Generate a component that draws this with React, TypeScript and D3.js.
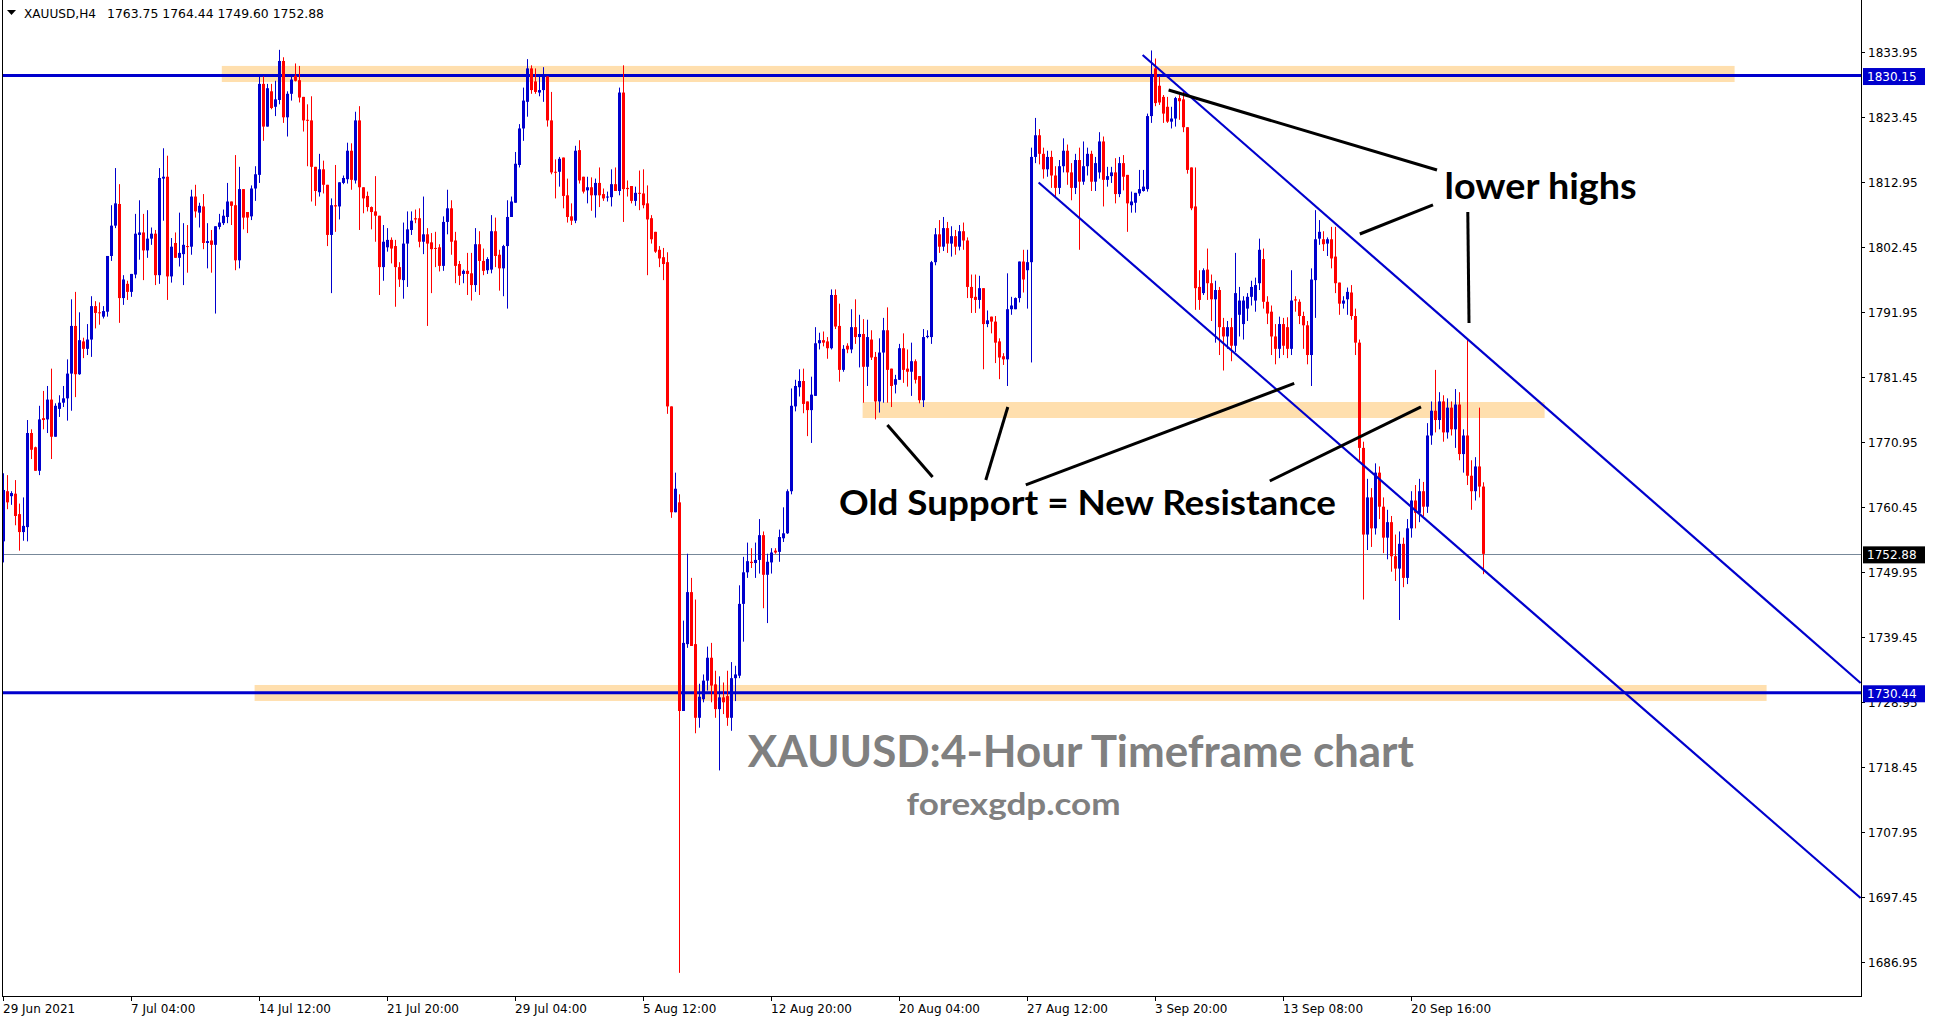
import React from 'react';
import * as d3 from 'd3';

const W = 1933;
const H = 1023;

const SYMBOL = 'XAUUSD,H4';
const HEADER_OHLC = '1763.75 1764.44 1749.60 1752.88';

const PRICE_TICKS = [1833.95, 1823.45, 1812.95, 1802.45, 1791.95, 1781.45, 1770.95, 1760.45, 1749.95, 1739.45, 1728.95, 1718.45, 1707.95, 1697.45, 1686.95];
const DATE_LABELS = ['29 Jun 2021', '7 Jul 04:00', '14 Jul 12:00', '21 Jul 20:00', '29 Jul 04:00', '5 Aug 12:00', '12 Aug 20:00', '20 Aug 04:00', '27 Aug 12:00', '3 Sep 20:00', '13 Sep 08:00', '20 Sep 16:00'];
const DATE_BARS = [0, 32, 64, 96, 128, 160, 192, 224, 256, 288, 320, 352];

const LEVELS = [1830.15, 1730.44];
const LAST_PRICE = 1752.88;

// zones: [fromBar, toBar, lowPrice, highPrice]
const ZONES: [number, number, number, number][] = [
  [54.7, 432.9, 1829.1, 1831.7],
  [214.9, 385.4, 1774.83, 1777.41],
  [62.9, 440.9, 1729.12, 1731.7],
];

// channel lines: [bar1, price1, bar2, price2]
const CHANNEL: [number, number, number, number][] = [
  [284.9, 1833.47, 464.4, 1732.02],
  [258.9, 1812.87, 464.4, 1697.29],
];

// pointer lines: [bar1, price1, bar2, price2]
const POINTERS: [number, number, number, number][] = [
  [291.4, 1827.81, 358.5, 1814.89],
  [339.2, 1804.55, 357.5, 1809.24],
  [366.2, 1808.1, 366.5, 1790.17],
  [221.1, 1773.7, 232.4, 1765.3],
  [251.2, 1776.6, 245.7, 1764.81],
  [255.7, 1764.01, 322.8, 1780.41],
  [316.7, 1764.65, 354.5, 1776.63],
];

// labels: [text, bar, price, spanBars]
const NOTES: [string, number, number, number][] = [
  ['lower highs', 360.4, 1810.28, 48],
  ['Old Support = New Resistance', 209.0, 1759.08, 124.25],
];
const WATERMARK: [string, number, number, number][] = [
  ['XAUUSD:4-Hour Timeframe chart', 186.2, 1718.45, 166.5],
  ['forexgdp.com', 225.9, 1710.7, 53.5],
];

// [open, high, low, close]
const OHLC: [number, number, number, number][] = [
  [1754.9, 1765.9, 1751.5, 1763.2], [1763.0, 1765.6, 1760.1, 1761.2], [1762.2, 1763.0, 1760.8, 1762.7], [1762.6, 1764.8, 1757.5, 1759.0],
  [1759.3, 1761.0, 1753.4, 1756.4], [1756.4, 1762.0, 1755.0, 1757.4], [1757.2, 1774.5, 1754.9, 1772.4], [1772.4, 1773.0, 1768.2, 1769.7],
  [1770.1, 1770.2, 1766.3, 1766.3], [1766.3, 1776.8, 1765.6, 1774.6], [1774.8, 1779.2, 1773.0, 1774.5], [1774.6, 1780.0, 1772.4, 1777.8],
  [1777.8, 1782.8, 1768.2, 1771.8], [1771.8, 1777.2, 1771.8, 1776.8], [1776.3, 1778.5, 1775.0, 1777.3], [1777.3, 1780.0, 1776.6, 1778.0],
  [1778.0, 1784.3, 1774.4, 1782.0], [1782.0, 1794.0, 1776.0, 1789.7], [1789.7, 1795.2, 1778.2, 1781.9], [1781.9, 1791.9, 1781.8, 1787.4],
  [1787.2, 1787.8, 1784.5, 1786.0], [1786.0, 1790.0, 1785.0, 1787.5], [1787.5, 1794.5, 1784.7, 1792.9], [1792.9, 1793.7, 1789.3, 1791.8],
  [1791.9, 1793.5, 1789.9, 1791.8], [1791.2, 1792.9, 1790.9, 1792.1], [1792.0, 1801.0, 1791.2, 1801.0], [1801.0, 1809.2, 1800.2, 1805.9],
  [1805.9, 1815.2, 1805.5, 1809.5], [1809.4, 1812.6, 1790.2, 1794.2], [1794.2, 1797.9, 1793.1, 1797.2], [1796.5, 1797.0, 1793.9, 1795.2],
  [1795.2, 1798.1, 1794.4, 1798.1], [1798.0, 1807.8, 1797.4, 1804.6], [1804.4, 1810.0, 1800.4, 1804.8], [1804.8, 1807.8, 1797.1, 1801.9],
  [1801.9, 1808.4, 1800.7, 1803.8], [1803.8, 1805.6, 1802.8, 1804.6], [1804.6, 1805.2, 1796.3, 1797.9], [1797.9, 1815.2, 1796.5, 1813.6],
  [1813.5, 1818.4, 1806.7, 1813.8], [1813.8, 1817.2, 1793.9, 1797.7], [1797.7, 1803.9, 1796.7, 1802.5], [1803.1, 1804.8, 1800.7, 1800.7],
  [1800.7, 1808.0, 1799.3, 1801.5], [1801.3, 1806.3, 1796.3, 1802.8], [1802.6, 1806.0, 1798.3, 1802.5], [1802.5, 1811.7, 1801.2, 1810.6],
  [1810.6, 1812.5, 1807.2, 1808.2], [1808.0, 1809.6, 1805.6, 1809.1], [1809.0, 1811.0, 1802.1, 1803.1], [1803.1, 1806.3, 1799.0, 1803.4],
  [1803.5, 1805.2, 1798.3, 1802.8], [1802.8, 1805.8, 1791.7, 1805.8], [1805.7, 1807.8, 1805.3, 1806.4], [1806.3, 1808.5, 1806.0, 1807.5],
  [1807.3, 1812.8, 1806.3, 1809.8], [1809.8, 1809.8, 1806.0, 1809.1], [1809.2, 1817.3, 1798.7, 1800.3], [1800.3, 1815.4, 1799.0, 1811.8],
  [1811.8, 1811.8, 1805.3, 1807.2], [1808.1, 1808.1, 1804.7, 1807.2], [1807.4, 1812.4, 1806.8, 1811.9], [1811.9, 1815.5, 1809.9, 1814.2],
  [1814.1, 1830.0, 1812.8, 1828.8], [1828.8, 1830.0, 1819.6, 1821.9], [1821.9, 1828.8, 1821.9, 1828.1], [1827.6, 1828.8, 1824.7, 1824.9],
  [1825.1, 1829.3, 1823.6, 1826.3], [1826.2, 1834.3, 1825.5, 1832.5], [1832.5, 1833.1, 1822.5, 1823.4], [1823.4, 1827.6, 1820.3, 1827.2],
  [1827.2, 1830.1, 1826.1, 1829.5], [1830.1, 1832.1, 1829.2, 1829.3], [1829.4, 1831.7, 1825.8, 1826.6], [1826.7, 1826.7, 1821.1, 1822.9],
  [1823.0, 1825.5, 1815.5, 1822.9], [1822.9, 1826.8, 1809.8, 1815.4], [1815.4, 1815.4, 1809.1, 1811.5], [1811.3, 1817.5, 1810.6, 1815.0],
  [1815.0, 1816.4, 1811.1, 1812.5], [1812.5, 1812.5, 1802.6, 1804.4], [1804.4, 1810.3, 1795.0, 1809.2], [1809.2, 1815.7, 1804.9, 1809.0],
  [1809.0, 1812.9, 1806.9, 1812.9], [1812.8, 1814.0, 1812.6, 1813.6], [1813.4, 1819.3, 1812.7, 1818.0], [1818.0, 1819.2, 1811.7, 1813.3],
  [1813.2, 1824.3, 1812.7, 1822.9], [1822.9, 1825.2, 1805.2, 1812.1], [1812.1, 1812.1, 1807.9, 1810.3], [1810.7, 1811.4, 1808.2, 1808.9],
  [1808.9, 1809.0, 1805.3, 1808.1], [1808.2, 1813.9, 1803.3, 1807.5], [1807.5, 1807.5, 1794.7, 1799.2], [1799.2, 1806.0, 1797.0, 1803.3],
  [1802.4, 1805.5, 1801.7, 1803.6], [1803.6, 1804.0, 1799.8, 1802.2], [1802.6, 1803.6, 1792.8, 1799.2], [1799.2, 1800.0, 1796.0, 1797.2],
  [1797.1, 1806.4, 1794.1, 1803.0], [1803.0, 1808.2, 1796.0, 1805.3], [1805.2, 1808.2, 1804.4, 1806.7], [1807.1, 1808.5, 1806.3, 1806.9],
  [1807.1, 1808.7, 1802.4, 1803.3], [1803.3, 1810.6, 1801.3, 1804.5], [1804.5, 1805.5, 1789.7, 1803.0], [1803.2, 1804.7, 1795.0, 1802.1],
  [1802.3, 1804.9, 1799.2, 1802.2], [1802.4, 1802.9, 1798.5, 1799.4], [1799.4, 1807.4, 1798.6, 1806.5], [1806.5, 1811.7, 1804.5, 1808.7],
  [1808.7, 1810.0, 1801.2, 1803.3], [1803.5, 1804.9, 1796.6, 1799.4], [1799.7, 1800.2, 1796.3, 1797.8], [1798.1, 1798.8, 1796.6, 1798.6],
  [1798.6, 1801.5, 1794.7, 1798.1], [1798.2, 1801.5, 1793.8, 1796.3], [1796.3, 1805.5, 1795.2, 1802.9], [1802.9, 1805.0, 1794.7, 1800.2],
  [1800.2, 1802.2, 1797.9, 1798.6], [1798.7, 1800.8, 1798.1, 1800.5], [1798.8, 1807.6, 1798.2, 1805.0], [1805.0, 1807.2, 1799.2, 1801.0],
  [1801.2, 1802.0, 1795.4, 1799.0], [1799.0, 1802.8, 1794.5, 1802.6], [1802.6, 1810.0, 1792.5, 1807.3], [1807.3, 1810.6, 1807.3, 1809.8],
  [1809.6, 1817.8, 1809.6, 1815.9], [1815.7, 1822.3, 1815.3, 1821.6], [1821.6, 1828.2, 1819.6, 1826.1], [1825.9, 1832.8, 1823.5, 1831.3],
  [1831.3, 1831.8, 1827.2, 1827.8], [1829.2, 1831.3, 1827.2, 1827.5], [1827.4, 1830.1, 1826.8, 1827.8], [1827.8, 1831.5, 1825.9, 1830.0],
  [1830.0, 1830.0, 1821.9, 1822.9], [1822.9, 1827.5, 1814.2, 1814.5], [1814.6, 1816.6, 1810.3, 1814.5], [1814.6, 1817.0, 1812.2, 1816.7],
  [1816.9, 1816.9, 1808.7, 1810.7], [1810.8, 1813.5, 1806.4, 1807.3], [1807.4, 1809.5, 1806.0, 1806.7], [1806.7, 1818.8, 1806.3, 1818.0],
  [1818.1, 1819.7, 1812.7, 1813.2], [1813.8, 1813.8, 1811.1, 1811.4], [1811.6, 1813.8, 1809.5, 1812.1], [1812.1, 1813.7, 1808.3, 1810.8],
  [1810.8, 1813.5, 1807.2, 1812.8], [1812.8, 1815.3, 1808.9, 1810.8], [1811.0, 1811.9, 1809.9, 1810.3], [1810.5, 1811.4, 1809.8, 1810.6],
  [1810.5, 1815.0, 1809.0, 1812.6], [1812.6, 1815.3, 1811.5, 1811.5], [1811.5, 1828.2, 1810.8, 1827.4], [1827.4, 1831.8, 1806.5, 1811.8],
  [1812.0, 1813.2, 1810.6, 1811.8], [1812.3, 1812.3, 1809.5, 1809.9], [1809.9, 1812.2, 1809.1, 1811.2], [1811.2, 1814.8, 1808.4, 1811.1],
  [1811.1, 1815.0, 1808.7, 1809.2], [1809.5, 1812.4, 1797.9, 1806.9], [1807.1, 1807.6, 1803.0, 1803.7], [1804.9, 1804.9, 1801.5, 1801.7],
  [1802.0, 1802.6, 1799.2, 1800.6], [1800.8, 1802.3, 1797.1, 1799.7], [1800.0, 1801.6, 1775.5, 1776.7], [1776.7, 1776.7, 1758.7, 1759.6],
  [1759.6, 1766.0, 1759.6, 1763.4], [1761.2, 1762.5, 1685.2, 1727.5], [1727.5, 1742.1, 1727.5, 1738.5], [1738.3, 1752.9, 1737.7, 1746.7],
  [1746.7, 1749.0, 1738.0, 1738.0], [1738.3, 1745.5, 1723.9, 1726.4], [1726.4, 1731.9, 1724.8, 1729.8], [1729.4, 1733.4, 1728.9, 1732.4],
  [1732.4, 1737.9, 1730.8, 1736.1], [1736.1, 1738.5, 1728.9, 1731.6], [1731.8, 1734.0, 1726.4, 1727.8], [1727.8, 1733.1, 1717.9, 1729.7],
  [1729.7, 1732.1, 1727.0, 1728.9], [1729.9, 1734.0, 1725.1, 1726.4], [1726.4, 1735.4, 1724.3, 1732.8], [1732.8, 1734.8, 1729.1, 1733.4],
  [1733.2, 1747.8, 1732.8, 1744.8], [1744.8, 1752.4, 1738.7, 1749.9], [1749.9, 1754.7, 1749.0, 1751.7], [1751.6, 1753.8, 1750.6, 1751.4],
  [1751.4, 1754.7, 1749.0, 1751.9], [1751.9, 1758.5, 1749.7, 1755.9], [1755.9, 1756.5, 1744.1, 1749.5], [1749.5, 1752.9, 1741.7, 1751.6],
  [1751.5, 1753.8, 1749.7, 1753.1], [1753.4, 1753.8, 1752.9, 1753.1], [1753.2, 1756.8, 1751.6, 1755.6], [1755.4, 1760.4, 1754.8, 1756.2],
  [1756.2, 1763.3, 1756.1, 1763.0], [1763.0, 1779.6, 1762.5, 1776.8], [1776.7, 1781.0, 1775.9, 1780.0], [1779.8, 1782.7, 1778.3, 1780.8],
  [1780.8, 1782.8, 1775.6, 1777.1], [1777.5, 1777.5, 1771.9, 1776.1], [1776.1, 1781.5, 1770.8, 1778.6], [1778.4, 1789.5, 1778.4, 1786.9],
  [1786.9, 1788.6, 1785.9, 1787.4], [1787.4, 1788.8, 1786.4, 1787.0], [1787.2, 1787.9, 1784.4, 1786.1], [1786.1, 1795.6, 1785.9, 1794.7],
  [1794.7, 1795.6, 1789.2, 1789.6], [1789.7, 1793.3, 1780.7, 1782.6], [1782.6, 1786.6, 1782.3, 1786.0], [1786.5, 1786.9, 1785.3, 1785.9],
  [1785.9, 1792.4, 1785.3, 1789.5], [1789.5, 1794.0, 1786.8, 1787.9], [1787.9, 1791.5, 1783.0, 1788.4], [1788.4, 1790.8, 1777.3, 1783.1],
  [1783.1, 1790.7, 1780.0, 1787.9], [1787.5, 1789.0, 1784.2, 1784.6], [1784.7, 1785.5, 1774.6, 1777.5], [1777.5, 1787.7, 1775.7, 1785.4],
  [1785.4, 1791.0, 1777.3, 1789.0], [1789.0, 1792.7, 1777.3, 1782.6], [1782.8, 1782.8, 1776.6, 1780.0], [1780.2, 1781.8, 1778.8, 1781.1],
  [1781.0, 1786.8, 1781.0, 1786.1], [1786.1, 1788.5, 1780.5, 1782.6], [1782.8, 1785.9, 1779.9, 1782.3], [1782.3, 1787.0, 1778.4, 1784.0],
  [1784.0, 1784.3, 1780.4, 1781.0], [1781.6, 1781.6, 1777.2, 1777.7], [1777.7, 1789.2, 1776.6, 1787.9], [1787.9, 1789.0, 1787.7, 1788.1],
  [1787.9, 1800.2, 1786.8, 1800.0], [1800.0, 1805.5, 1799.5, 1804.5], [1804.5, 1806.8, 1801.5, 1802.5], [1802.5, 1807.3, 1801.8, 1805.5],
  [1805.5, 1806.5, 1801.5, 1803.0], [1803.0, 1805.8, 1800.9, 1804.2], [1804.2, 1805.2, 1801.2, 1802.5], [1802.5, 1806.0, 1801.9, 1805.0],
  [1805.0, 1806.4, 1802.0, 1803.5], [1803.5, 1804.0, 1794.2, 1796.0], [1796.0, 1798.0, 1791.8, 1794.2], [1794.4, 1798.0, 1791.8, 1793.9],
  [1793.9, 1797.8, 1792.5, 1795.8], [1795.8, 1795.8, 1782.7, 1790.0], [1790.0, 1792.2, 1789.5, 1790.6], [1791.2, 1791.2, 1788.5, 1790.4],
  [1790.4, 1791.3, 1783.7, 1787.0], [1787.2, 1787.7, 1781.1, 1784.6], [1784.8, 1785.3, 1783.4, 1784.3], [1784.3, 1798.2, 1780.0, 1792.4],
  [1792.4, 1794.4, 1791.5, 1793.0], [1792.4, 1794.3, 1792.4, 1794.2], [1794.2, 1800.1, 1793.5, 1800.1], [1800.1, 1802.0, 1795.1, 1797.2],
  [1798.7, 1802.0, 1792.5, 1800.0], [1800.0, 1818.5, 1783.8, 1817.0], [1817.0, 1823.3, 1816.0, 1820.5], [1820.5, 1821.5, 1815.8, 1817.5],
  [1817.5, 1818.5, 1813.5, 1815.0], [1815.0, 1818.0, 1813.8, 1817.0], [1817.0, 1818.0, 1812.0, 1814.0], [1814.0, 1815.5, 1810.5, 1812.0],
  [1812.0, 1816.5, 1811.0, 1815.5], [1815.5, 1820.0, 1814.5, 1818.0], [1818.0, 1819.0, 1812.5, 1814.5], [1814.5, 1816.0, 1810.0, 1812.0],
  [1812.0, 1817.5, 1811.0, 1816.5], [1816.5, 1818.5, 1802.0, 1813.0], [1813.0, 1819.5, 1812.5, 1815.5], [1815.5, 1818.5, 1814.0, 1817.5],
  [1817.5, 1818.0, 1811.5, 1813.0], [1813.0, 1817.0, 1811.5, 1816.0], [1814.5, 1821.0, 1813.5, 1819.5], [1819.5, 1820.3, 1809.0, 1813.3],
  [1813.3, 1815.4, 1812.2, 1813.9], [1813.9, 1815.4, 1812.8, 1814.5], [1814.5, 1816.8, 1809.5, 1811.0], [1811.0, 1817.0, 1810.5, 1816.0],
  [1816.0, 1817.3, 1811.6, 1813.8], [1814.1, 1814.1, 1804.9, 1809.5], [1809.2, 1811.4, 1808.0, 1809.8], [1809.6, 1811.2, 1808.0, 1811.2],
  [1811.1, 1814.9, 1810.7, 1811.8], [1811.5, 1814.9, 1811.4, 1812.2], [1811.8, 1824.0, 1811.4, 1823.6], [1823.6, 1834.2, 1822.5, 1830.2],
  [1831.3, 1832.9, 1825.2, 1825.7], [1828.5, 1830.0, 1825.4, 1825.8], [1826.7, 1827.0, 1822.5, 1824.0], [1825.1, 1826.7, 1822.5, 1822.7],
  [1822.7, 1825.1, 1821.6, 1823.2], [1823.2, 1826.7, 1821.9, 1826.5], [1826.5, 1827.0, 1823.0, 1826.0], [1826.3, 1827.5, 1821.0, 1821.8],
  [1821.8, 1821.8, 1814.3, 1814.9], [1815.3, 1815.3, 1808.4, 1808.7], [1809.0, 1815.3, 1792.3, 1795.8], [1796.0, 1798.7, 1792.3, 1793.9],
  [1795.0, 1799.0, 1794.7, 1798.7], [1798.8, 1802.2, 1793.9, 1796.6], [1796.6, 1798.0, 1790.5, 1794.0], [1794.0, 1797.0, 1787.0, 1795.5],
  [1795.5, 1796.0, 1785.0, 1789.5], [1789.5, 1791.0, 1782.5, 1788.0], [1788.0, 1790.5, 1786.0, 1789.5], [1789.5, 1791.0, 1784.0, 1786.5],
  [1786.5, 1801.5, 1785.5, 1795.0], [1791.5, 1796.0, 1788.0, 1793.8], [1790.0, 1794.5, 1787.5, 1793.8], [1792.5, 1795.0, 1790.5, 1794.4],
  [1794.4, 1797.0, 1793.0, 1796.0], [1793.8, 1797.5, 1792.0, 1796.3], [1796.6, 1803.8, 1795.5, 1802.0], [1800.5, 1802.2, 1792.5, 1793.6],
  [1793.6, 1794.5, 1790.0, 1791.7], [1792.0, 1793.0, 1785.0, 1788.0], [1788.0, 1790.0, 1783.5, 1786.0], [1786.0, 1791.2, 1784.5, 1790.0],
  [1790.0, 1791.0, 1785.0, 1786.5], [1789.5, 1791.1, 1784.5, 1786.0], [1786.0, 1798.7, 1785.0, 1793.8], [1794.0, 1794.5, 1792.0, 1793.8],
  [1793.6, 1794.0, 1790.0, 1791.3], [1791.3, 1792.0, 1786.0, 1789.8], [1789.8, 1790.5, 1783.5, 1785.0], [1785.0, 1799.0, 1780.0, 1797.2],
  [1797.1, 1808.4, 1791.0, 1803.7], [1803.8, 1806.8, 1802.8, 1804.9], [1803.7, 1805.0, 1801.8, 1802.9], [1803.0, 1804.0, 1801.0, 1803.7],
  [1803.7, 1805.7, 1799.0, 1800.6], [1800.9, 1805.7, 1795.0, 1796.6], [1796.7, 1796.7, 1791.5, 1793.3], [1793.3, 1794.5, 1792.5, 1793.8],
  [1794.0, 1795.9, 1791.5, 1795.2], [1795.1, 1796.3, 1790.7, 1791.3], [1791.3, 1792.5, 1785.0, 1787.0], [1787.0, 1787.5, 1768.0, 1770.0],
  [1770.0, 1771.0, 1745.5, 1756.0], [1756.0, 1765.0, 1753.5, 1762.0], [1762.0, 1763.5, 1754.0, 1757.0], [1757.0, 1767.5, 1756.0, 1766.0],
  [1766.0, 1767.0, 1758.5, 1760.5], [1760.5, 1762.0, 1753.0, 1755.5], [1755.5, 1760.0, 1752.0, 1758.0], [1758.0, 1759.0, 1750.0, 1752.5],
  [1752.5, 1756.0, 1748.5, 1750.5], [1750.5, 1756.5, 1742.2, 1754.5], [1754.5, 1755.5, 1747.5, 1749.0], [1749.0, 1758.5, 1748.0, 1757.0],
  [1757.0, 1763.0, 1755.5, 1761.5], [1761.5, 1764.0, 1757.0, 1759.5], [1759.5, 1765.0, 1758.0, 1763.0], [1763.0, 1764.5, 1759.0, 1760.5],
  [1760.5, 1774.0, 1759.5, 1772.0], [1772.0, 1777.5, 1770.5, 1776.0], [1776.0, 1782.6, 1772.5, 1774.5], [1774.5, 1779.0, 1773.0, 1777.5],
  [1777.5, 1778.5, 1771.0, 1772.5], [1772.5, 1778.0, 1771.5, 1776.5], [1776.5, 1777.5, 1772.0, 1773.0], [1773.0, 1779.5, 1770.0, 1777.0],
  [1777.0, 1779.0, 1768.0, 1769.0], [1769.0, 1773.0, 1766.0, 1772.0], [1772.0, 1787.5, 1764.0, 1765.5], [1765.5, 1768.0, 1760.0, 1763.0],
  [1763.0, 1768.5, 1761.5, 1767.0], [1767.0, 1776.5, 1762.0, 1763.75], [1763.75, 1764.44, 1749.6, 1752.88],
];

const BLUE = '#0000CD';
const RED = '#FF0000';

export default function App() {
  const x = d3.scaleLinear().domain([0, 1]).range([3, 7]);
  const y = d3.scaleLinear().domain([1686.95, 1833.95]).range([962, 52]);
  const plotL = 2, plotR = 1861, plotB = 996;
  const fmt = d3.format('.2f');

  const labelBox = (p: number, fill: string, key: string) => {
    const cy = y(p) + 1;
    return (
      <g key={key}>
        <rect x={1863} y={cy - 8.5} width={62} height={17} fill={fill} />
        <text x={1867} y={cy + 4.5} fill="#fff" fontSize={12} fontFamily="DejaVu Sans">{fmt(p)}</text>
      </g>
    );
  };

  return (
    <svg width={W} height={H} style={{ position: 'absolute', left: 0, top: 0, background: '#fff' }}>
      <defs>
        <clipPath id="plot"><rect x={plotL} y={0} width={plotR - plotL} height={plotB} /></clipPath>
      </defs>
      <rect x={0} y={0} width={W} height={H} fill="#fff" />
      <g clipPath="url(#plot)">
        {ZONES.map(([b0, b1, lo, hi], k) => (
          <rect key={'z' + k} x={x(b0)} y={y(hi)} width={x(b1) - x(b0)} height={y(lo) - y(hi)} fill="#FFDFAE" />
        ))}
        <line x1={plotL} x2={plotR} y1={Math.round(y(LAST_PRICE)) + 0.5} y2={Math.round(y(LAST_PRICE)) + 0.5} stroke="#778899" strokeWidth={1} />
        {LEVELS.map((p, k) => (
          <line key={'l' + k} x1={plotL} x2={plotR} y1={y(p)} y2={y(p)} stroke={BLUE} strokeWidth={3} />
        ))}
        {OHLC.map(([o, h, l, c], i) => {
          const cx = x(i);
          const col = c >= o ? BLUE : RED;
          const top = y(Math.max(o, c));
          const bot = y(Math.min(o, c));
          return (
            <g key={i} fill={col}>
              <rect x={cx} y={y(h)} width={1} height={Math.max(1, y(l) - y(h))} />
              <rect x={cx - 1} y={top} width={3} height={Math.max(1, bot - top)} />
            </g>
          );
        })}
        {CHANNEL.map(([b1, p1, b2, p2], k) => (
          <line key={'c' + k} x1={x(b1)} y1={y(p1)} x2={x(b2)} y2={y(p2)} stroke={BLUE} strokeWidth={2.2} />
        ))}
        {POINTERS.map(([b1, p1, b2, p2], k) => (
          <line key={'p' + k} x1={x(b1)} y1={y(p1)} x2={x(b2)} y2={y(p2)} stroke="#000" strokeWidth={3} />
        ))}
        {NOTES.map(([t, b, p, span], k) => (
          <text key={'n' + k} x={x(b)} y={y(p)} fontFamily="Lato" fontWeight={700} fontSize={k === 0 ? 37 : 35}
            textLength={span * 4} lengthAdjust="spacingAndGlyphs" fill="#000">{t}</text>
        ))}
        {WATERMARK.map(([t, b, p, span], k) => (
          <text key={'w' + k} x={x(b)} y={y(p)} fontFamily="Lato" fontWeight={700} fontSize={k === 0 ? 43 : 31}
            textLength={span * 4} lengthAdjust="spacingAndGlyphs" fill="#808080">{t}</text>
        ))}
      </g>

      {/* frame */}
      <line x1={plotL + 0.5} x2={plotL + 0.5} y1={0} y2={plotB + 0.5} stroke="#000" />
      <line x1={plotR + 0.5} x2={plotR + 0.5} y1={0} y2={plotB + 0.5} stroke="#000" />
      <line x1={plotL} x2={plotR + 1} y1={plotB + 0.5} y2={plotB + 0.5} stroke="#000" />

      {/* price axis */}
      {PRICE_TICKS.map((p) => (
        <g key={'t' + p}>
          <line x1={plotR + 1} x2={plotR + 4} y1={Math.round(y(p)) + 0.5} y2={Math.round(y(p)) + 0.5} stroke="#000" />
          <text x={1868} y={y(p) + 4.5} fontSize={12} fontFamily="DejaVu Sans" fill="#000">{fmt(p)}</text>
        </g>
      ))}
      {LEVELS.map((p, k) => labelBox(p, BLUE, 'b' + k))}
      {labelBox(LAST_PRICE, '#000', 'last')}

      {/* time axis */}
      {DATE_BARS.map((b, k) => (
        <g key={'d' + k}>
          <line x1={x(b) + 0.5} x2={x(b) + 0.5} y1={plotB} y2={plotB + 5} stroke="#000" />
          <text x={x(b)} y={1013} fontSize={12} fontFamily="DejaVu Sans" fill="#000">{DATE_LABELS[k]}</text>
        </g>
      ))}

      {/* header */}
      <path d="M7,10 L16,10 L11.5,15 Z" fill="#000" />
      <text x={24} y={18} fontSize={12} fontFamily="DejaVu Sans" fill="#000" textLength={72} lengthAdjust="spacingAndGlyphs">{SYMBOL}</text>
      <text x={107} y={18} fontSize={12} fontFamily="DejaVu Sans" fill="#000" textLength={217} lengthAdjust="spacingAndGlyphs">{HEADER_OHLC}</text>
    </svg>
  );
}
